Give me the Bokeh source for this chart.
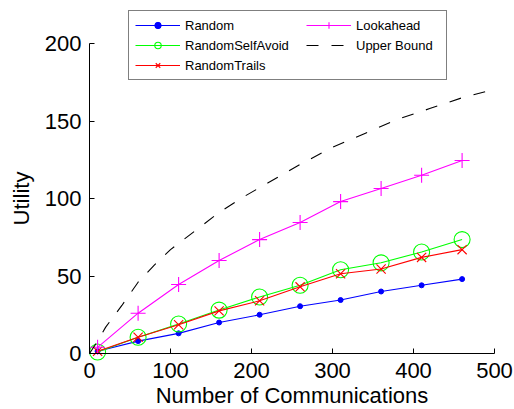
from bokeh.plotting import figure
from bokeh.models import Legend, LegendItem, Range1d, FixedTicker
from bokeh.embed import file_html
from bokeh.resources import INLINE

# Data
x_comm = [10, 60, 110, 160, 210, 260, 310, 360, 410, 460]
random_u = [1.5, 8, 13, 20, 25, 30.5, 34.5, 40, 44, 48]
self_avoid_u = [1, 10.5, 19, 28, 36.5, 44, 54, 58.5, 65.5, 73.5]
trails_u = [1.5, 10.5, 18.5, 27.5, 34, 43, 51.5, 54.5, 62, 67]
lookahead_u = [4, 26, 44.5, 60, 73.5, 84.5, 98, 106.5, 115, 124.5]
ub_x = [0, 10, 20, 40, 60, 80, 100, 130, 160, 190, 220, 260, 300, 340, 380, 420, 460, 500]
ub_y = [0, 8, 17, 31, 46, 57, 67, 79, 91, 101, 110, 122, 133, 142, 151, 158, 165, 170.5]
x_ticks = [0, 100, 200, 300, 400, 500]
y_ticks = [0, 50, 100, 150, 200]

FONT = "Liberation Sans"

W, H = 514, 409
# the frame fills the canvas; axes are pinned at x=0 / y=0 so their labels fit inside it.
# x=0 sits at 89px, x=500 at 494px; y=0 sits at 353px, y=200 at 43px.
X_L = -500 * 89 / (494 - 89)
X_R = 500 * (W - 89) / (494 - 89)
Y_T = 200 * 353 / (353 - 43)
Y_B = -200 * (H - 353) / (353 - 43)

p = figure(width=W, height=H, output_backend="svg", toolbar_location=None,
           x_range=Range1d(X_L, X_R), y_range=Range1d(Y_B, Y_T),
           min_border_left=0, min_border_right=0, min_border_top=0, min_border_bottom=0)
p.outline_line_color = None
p.xgrid.visible = False
p.ygrid.visible = False
p.background_fill_color = "white"
p.border_fill_color = "white"

for ax in (p.xaxis[0], p.yaxis[0]):
    ax.axis_line_color = "black"
    ax.major_tick_line_color = "black"
    ax.major_tick_in = 5
    ax.major_tick_out = 0
    ax.minor_tick_line_color = None
    ax.major_label_text_font = FONT
    ax.major_label_text_font_size = "22px"
    ax.major_label_text_color = "black"
    ax.axis_label_text_font = FONT
    ax.axis_label_text_font_size = "22px"
    ax.axis_label_text_font_style = "normal"
    ax.axis_label_text_color = "black"

p.xaxis.bounds = (0, 500)
p.yaxis.bounds = (0, 200)
p.xaxis.fixed_location = 0
p.yaxis.fixed_location = 0
p.xaxis.ticker = FixedTicker(ticks=x_ticks)
p.yaxis.ticker = FixedTicker(ticks=y_ticks)
p.xaxis.axis_label = "Number of Communications"
p.yaxis.axis_label = "Utility"
p.xaxis.major_label_standoff = 9
p.yaxis.major_label_standoff = 8
p.xaxis.axis_label_standoff = 2
p.yaxis.axis_label_standoff = 8

r1l = p.line(x_comm, random_u, line_color="#0000ff", line_width=1.1)
r1m = p.scatter(x_comm, random_u, marker="circle", size=5, fill_color="#0000ff", line_color="#0000ff")
r2l = p.line(x_comm, self_avoid_u, line_color="#00ff00", line_width=1.1)
r2m = p.scatter(x_comm, self_avoid_u, marker="circle", size=16, fill_color=None, line_color="#00ff00", line_width=1.1)
r3l = p.line(x_comm, trails_u, line_color="#ff0000", line_width=1.1)
r3m = p.scatter(x_comm, trails_u, marker="x", size=13, line_color="#ff0000", line_width=1.1)
r4l = p.line(x_comm, lookahead_u, line_color="#ff00ff", line_width=1.1)
r4m = p.scatter(x_comm, lookahead_u, marker="cross", size=15, line_color="#ff00ff", line_width=1.1)
r5l = p.line(ub_x, ub_y, line_color="black", line_width=1.1, line_dash="12 13")


def style(lg):
    lg.label_text_font = FONT
    lg.label_text_font_size = "13px"
    lg.label_text_color = "black"
    lg.glyph_width = 45
    lg.glyph_height = 16
    lg.label_height = 16
    lg.label_standoff = 5
    lg.spacing = 4
    lg.padding = 6
    lg.margin = 0


# first column (with the surrounding box); location is in px from the frame's bottom-left
legend1 = Legend(items=[
    LegendItem(label="Random", renderers=[r1l, r1m]),
    LegendItem(label="RandomSelfAvoid", renderers=[r2l, r2m]),
    LegendItem(label="RandomTrails", renderers=[r3l, r3m]),
], location=(128, 329))
style(legend1)
legend1.label_width = 255
legend1.border_line_color = "black"
legend1.border_line_width = 1
legend1.background_fill_color = "white"
legend1.background_fill_alpha = 1
p.add_layout(legend1, "center")

# second column (drawn inside the same box)
legend2 = Legend(items=[
    LegendItem(label="Lookahead", renderers=[r4l, r4m]),
    LegendItem(label="Upper Bound", renderers=[r5l]),
], location=(306, 356))
style(legend2)
legend2.border_line_color = None
legend2.background_fill_alpha = 0
p.add_layout(legend2, "center")

open("out.html", "w").write(file_html(p, INLINE))
